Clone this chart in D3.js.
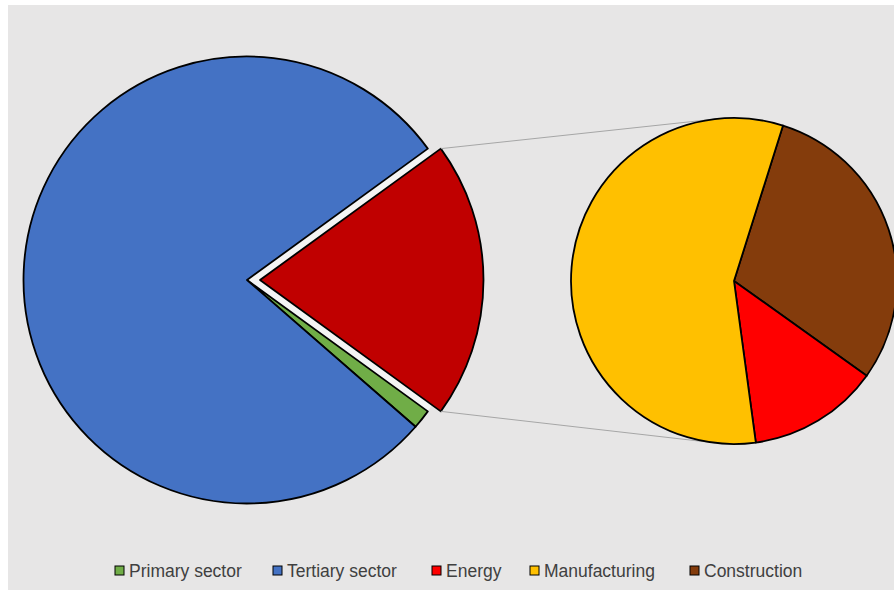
<!DOCTYPE html>
<html>
<head>
<meta charset="utf-8">
<script src="https://cdn.jsdelivr.net/npm/d3@7"></script>
<style>
  html, body { margin: 0; padding: 0; background: #ffffff; }
  svg { display: block; }
</style>
</head>
<body>
<svg id="chart" width="894" height="590"></svg>
<script>
// Sector shares (%) — main pie: industry is grouped as one slice
const mainCategories = ["Industry", "Primary sector", "Tertiary sector"];
const mainValues = [20.0, 1.4, 78.6];
const mainColors = ["#C00000", "#70AD47", "#4472C4"];

// Breakdown of the industry slice
const subCategories = ["Construction", "Energy", "Manufacturing"];
const subValues = [6.0, 2.6, 11.4];
const subColors = ["#843C0C", "#FF0000", "#FFC000"];

// Legend entries
const legendLabels = ["Primary sector", "Tertiary sector", "Energy", "Manufacturing", "Construction"];
const legendColors = ["#70AD47", "#4472C4", "#FF0000", "#FFC000", "#843C0C"];

const svg = d3.select("#chart");
const W = 894, H = 590;

// Panel background
svg.append("rect").attr("x", 8).attr("y", 5).attr("width", W - 8).attr("height", H - 5)
  .attr("fill", "#E7E6E6");

const deg = Math.PI / 180;
const pt = (cx, cy, r, a) => [cx + r * Math.sin(a), cy - r * Math.cos(a)];
const strokeW = 1.8;

// ---- main pie ----
const mc = { x: 247, y: 280, r: 223.5 };
const explode = 13;
const groupShare = mainValues[0] / d3.sum(mainValues);
const mainStart = Math.PI / 2 - groupShare * Math.PI;   // centre the industry slice on the right
const mainPie = d3.pie().sort(null).value(d => d)
  .startAngle(mainStart).endAngle(mainStart + 2 * Math.PI);
const mainArcs = mainPie(mainValues);
const mainArc = d3.arc().innerRadius(0).outerRadius(mc.r);

const gMain = svg.append("g").attr("transform", `translate(${mc.x},${mc.y})`);

// light gap left behind by the pulled-out slice
gMain.append("path").attr("d", mainArc(mainArcs[0])).attr("fill", "#F4F4F4");

mainArcs.forEach((a, i) => {
  if (i === 0) return;
  gMain.append("path").attr("d", mainArc(a))
    .attr("fill", mainColors[i]).attr("stroke", "#000").attr("stroke-width", strokeW)
    .attr("stroke-linejoin", "round");
});

const ex = mainArcs[0];
const mid = (ex.startAngle + ex.endAngle) / 2;
const dx = explode * Math.sin(mid), dy = -explode * Math.cos(mid);
gMain.append("path").attr("d", mainArc(ex))
  .attr("transform", `translate(${dx},${dy})`)
  .attr("fill", mainColors[0]).attr("stroke", "#000").attr("stroke-width", strokeW)
  .attr("stroke-linejoin", "round");

// ---- secondary pie ----
const sc = { x: 734, y: 281, r: 163 };
const subStart = 17.5 * deg;
const subPie = d3.pie().sort(null).value(d => d)
  .startAngle(subStart).endAngle(subStart + 2 * Math.PI);
const subArcs = subPie(subValues);
const subArc = d3.arc().innerRadius(0).outerRadius(sc.r);

// ---- connector lines (tangents from the pulled-out slice corners) ----
const ecx = mc.x + dx, ecy = mc.y + dy;
const cornerTop = pt(ecx, ecy, mc.r, ex.startAngle);
const cornerBot = pt(ecx, ecy, mc.r, ex.endAngle);
function tangent(P, sign) {
  const vx = sc.x - P[0], vy = sc.y - P[1];
  const d = Math.hypot(vx, vy);
  const th = Math.atan2(vy, vx);
  const al = Math.asin(sc.r / d);
  const L = Math.sqrt(d * d - sc.r * sc.r);
  const t = th + sign * al;
  return [P[0] + L * Math.cos(t), P[1] + L * Math.sin(t)];
}
const tTop = tangent(cornerTop, -1);
const tBot = tangent(cornerBot, 1);
svg.append("line").attr("x1", cornerTop[0]).attr("y1", cornerTop[1])
  .attr("x2", tTop[0]).attr("y2", tTop[1]).attr("stroke", "#A6A6A6").attr("stroke-width", 1);
svg.append("line").attr("x1", cornerBot[0]).attr("y1", cornerBot[1])
  .attr("x2", tBot[0]).attr("y2", tBot[1]).attr("stroke", "#A6A6A6").attr("stroke-width", 1);

const gSub = svg.append("g").attr("transform", `translate(${sc.x},${sc.y})`);
subArcs.forEach((a, i) => {
  gSub.append("path").attr("d", subArc(a))
    .attr("fill", subColors[i]).attr("stroke", "#000").attr("stroke-width", strokeW)
    .attr("stroke-linejoin", "round");
});

// ---- legend ----
const legendX = [115, 273, 432, 530, 690];
const lg = svg.append("g").attr("transform", "translate(0,571)");
legendLabels.forEach((lab, i) => {
  lg.append("rect").attr("x", legendX[i]).attr("y", -5).attr("width", 9).attr("height", 9)
    .attr("fill", legendColors[i]).attr("stroke", "#000").attr("stroke-width", 1);
  lg.append("text").attr("x", legendX[i] + 14).attr("y", 0).attr("dy", "0.35em")
    .attr("font-family", "'Liberation Sans', Arial, sans-serif").attr("font-size", 17.5)
    .attr("fill", "#404040").text(lab);
});
</script>
</body>
</html>
